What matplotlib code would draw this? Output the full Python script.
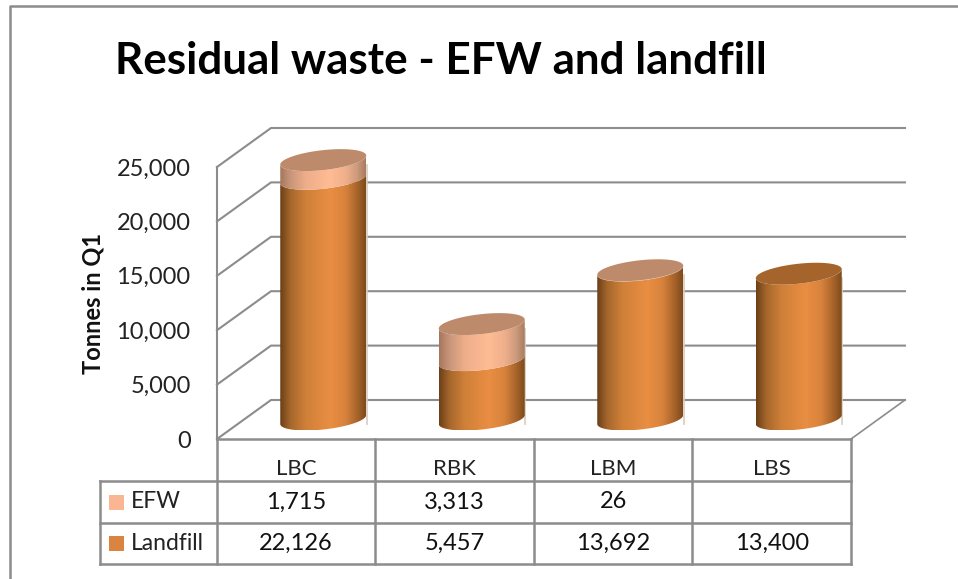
import matplotlib

matplotlib.use("Agg")
import matplotlib.pyplot as plt
import numpy as np
from matplotlib.colors import LinearSegmentedColormap
from matplotlib.patches import Polygon, Rectangle

categories = ["LBC", "RBK", "LBM", "LBS"]
efw = [1715, 3313, 26, 0]
landfill = [22126, 5457, 13692, 13400]
y_ticks = [0, 5000, 10000, 15000, 20000, 25000]

W, H = 958, 579
LEFT, RIGHT, BOTTOM, TOP = 217, 851, 439, 167
GREY = "#8c8c8c"

# pixels per data unit, the cylinders are sized in pixels and converted
px_x = (RIGHT - LEFT) / len(categories)
px_y = (BOTTOM - TOP) / y_ticks[-1]
depth_x = 54 / px_x
depth_y = 39 / px_y
radius = 43 / px_x
minor = 10 / px_y
shear = 4.5 / px_y

landfill_cmap = LinearSegmentedColormap.from_list(
    "landfill",
    [(0, "#6b3f18"), (0.12, "#a5672c"), (0.3, "#d08038"), (0.58, "#e98e43"), (0.76, "#d8833c"), (0.9, "#a8642a"), (1, "#7d4a1d")],
)
efw_cmap = LinearSegmentedColormap.from_list(
    "efw",
    [(0, "#a5775c"), (0.12, "#c8957a"), (0.3, "#eeae8a"), (0.58, "#ffbc94"), (0.76, "#f0b08c"), (0.9, "#cc9a7c"), (1, "#a87b60")],
)
EFW_TOP = "#bd8a6c"
LANDFILL_TOP = "#a6642d"
EFW_SWATCH = "#fab593"
LANDFILL_SWATCH = "#db843f"

plt.rcParams["font.family"] = ["Lato", "DejaVu Sans"]

fig = plt.figure(figsize=(W / 100, H / 100), dpi=100, facecolor="white")

page = fig.add_axes([0, 0, 1, 1])
page.set_xlim(0, W)
page.set_ylim(H, 0)
page.axis("off")

ax = fig.add_axes([LEFT / W, 1 - BOTTOM / H, (RIGHT - LEFT) / W, (BOTTOM - TOP) / H])
ax.patch.set_visible(False)
ax.set_xlim(0, len(categories))
ax.set_ylim(0, y_ticks[-1])
for spine in ax.spines.values():
    spine.set_visible(False)


def edge(x, y, t):
    return x + radius * np.cos(t), y + minor * np.sin(t) + shear * np.cos(t)


def draw_side(x, y0, y1, cmap):
    t = np.linspace(np.pi, 2 * np.pi, 60)
    low_x, low_y = edge(x, y0, t)
    high_x, high_y = edge(x, y1, t)
    points = np.r_[np.c_[low_x, low_y], np.c_[high_x, high_y][::-1]]
    shape = Polygon(points, closed=True, transform=ax.transData)
    extent = (x - radius, x + radius, points[:, 1].min(), points[:, 1].max())
    im = ax.imshow(
        np.linspace(0, 1, 256)[None, :], cmap=cmap, extent=extent, aspect="auto", zorder=3
    )
    im.set_clip_path(shape)
    im.set_clip_box(fig.bbox)


def draw_top(x, y, color):
    t = np.linspace(0, 2 * np.pi, 120)
    ex, ey = edge(x, y, t)
    ax.fill(ex, ey, color=color, lw=0, zorder=4, clip_on=False)


# walls and gridlines
for tick in y_ticks:
    ax.plot(
        [0, depth_x, len(categories) + depth_x],
        [tick, tick + depth_y, tick + depth_y],
        color=GREY,
        lw=1.5,
        clip_on=False,
        zorder=1,
    )
ax.plot([0, 0], [0, y_ticks[-1]], color=GREY, lw=1.5, clip_on=False, zorder=1)
ax.plot(
    [len(categories), len(categories) + depth_x], [0, depth_y], color=GREY, lw=1.2, clip_on=False, zorder=1
)

# cylinders
for i in range(len(categories)):
    cx = i + 0.5 + depth_x / 2
    base = depth_y / 2
    top_landfill = base + landfill[i]
    top_all = top_landfill + efw[i]
    draw_side(cx, base, top_landfill, landfill_cmap)
    if efw[i] > 0:
        draw_side(cx, top_landfill, top_all, efw_cmap)
    draw_top(cx, top_all, EFW_TOP if efw[i] > 0 else LANDFILL_TOP)
    # pale fringe down the right side
    ax.plot([cx + radius * 1.012] * 2, [base - shear, top_all - shear], color="#dccbbb", lw=1.2, zorder=2, clip_on=False)

ax.set_xlim(0, len(categories))
ax.set_ylim(0, y_ticks[-1])

ax.set_yticks(y_ticks, [f"{v:,}" for v in y_ticks])
ax.set_xticks(np.arange(len(categories)) + 0.5, categories)
ax.tick_params(axis="y", length=0, pad=19, labelsize=17, labelcolor="#222222")
ax.tick_params(axis="x", length=0, pad=14.5, labelsize=16, labelcolor="#222222")
ax.set_ylabel("Tonnes in Q1", fontsize=17, fontweight="bold", color="#111111")
ax.yaxis.set_label_coords((105 - LEFT) / (RIGHT - LEFT), (BOTTOM - 303) / (BOTTOM - TOP))

# outer frame of the chart area
page.plot([10, 10, W], [H, 6, 6], color=GREY, lw=1.8)

page.text(115, 61, "Residual waste - EFW and landfill", fontsize=31.7, fontweight="bold",
          color="black", ha="left", va="center")

# data table below the plot
row_y = [439, 481, 523, 564]
col_x = [LEFT + i * px_x for i in range(len(categories) + 1)]
page.plot([col_x[0], col_x[-1]], [row_y[0], row_y[0]], color=GREY, lw=1.8)
for y in row_y[1:]:
    page.plot([100, col_x[-1]], [y, y], color=GREY, lw=1.8)
for x in col_x:
    page.plot([x, x], [row_y[0], row_y[-1]], color=GREY, lw=1.8)
page.plot([100, 100], [row_y[1], row_y[-1]], color=GREY, lw=1.8)

rows = [("EFW", efw, EFW_SWATCH), ("Landfill", landfill, LANDFILL_SWATCH)]
for r, (name, values, swatch) in enumerate(rows):
    mid = (row_y[r + 1] + row_y[r + 2]) / 2
    page.add_patch(Rectangle((109, mid - 7.5), 15, 15, color=swatch, lw=0))
    page.text(131, mid, name, fontsize=16.5, color="#222222", ha="left", va="center")
    for i, value in enumerate(values):
        label = f"{value:,}" if value else ""
        page.text(col_x[i] + px_x / 2, mid, label, fontsize=17, color="#111111",
                  ha="center", va="center")

fig.savefig("out.png", dpi=100)
